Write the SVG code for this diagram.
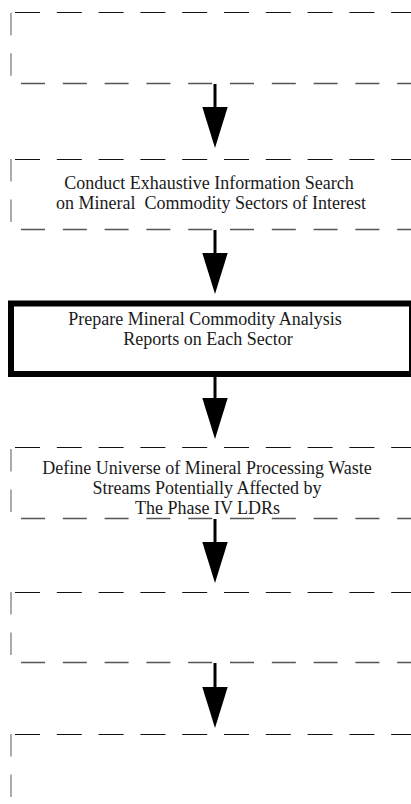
<svg xmlns="http://www.w3.org/2000/svg" width="411" height="804" viewBox="0 0 411 804">
  <style>
    .edge-top { fill: none; stroke: #111; stroke-width: 1.2; stroke-dasharray: 25 16.8; }
    .edge-bot { fill: none; stroke: #555; stroke-width: 1.4; stroke-dasharray: 24 17.8; }
    .edge-left { fill: none; stroke: #888; stroke-width: 1.4; stroke-dasharray: 22.5 18; }
    .solid-box { fill: #fff; stroke: #000; stroke-width: 6; }
    .label { font-family: "Liberation Serif", "Times New Roman", serif; font-size: 18px; fill: #1a1a1a; text-anchor: middle; }
    .conn { stroke: #000; stroke-width: 3; fill: none; }
  </style>
  <defs>
    <marker id="head" markerUnits="userSpaceOnUse" markerWidth="42" markerHeight="26" refX="0" refY="12.7" orient="auto">
      <path d="M0,0 L41,12.7 L0,25.4 Z" fill="#000"/>
    </marker>
  </defs>
  <rect width="411" height="804" fill="#fff"/>

  <g id="step-1">
    <path class="edge-top" d="M15,12.5 H420"/>
    <path class="edge-left" d="M11,12.7 V83"/>
    <path class="edge-bot" d="M21,83.5 H420"/>
  </g>

  <g id="step-2">
    <path class="edge-top" d="M15,159.5 H420"/>
    <path class="edge-left" d="M11,159 V229"/>
    <path class="edge-bot" d="M21,229.5 H420"/>
    <text class="label" x="209" y="189">Conduct Exhaustive Information Search</text>
    <text class="label" x="211" y="209" xml:space="preserve">on Mineral  Commodity Sectors of Interest</text>
  </g>

  <g id="step-3">
    <rect class="solid-box" x="11" y="303.5" width="401" height="70.5"/>
    <text class="label" x="205" y="325">Prepare Mineral Commodity Analysis</text>
    <text class="label" x="208" y="345">Reports on Each Sector</text>
  </g>

  <g id="step-4">
    <path class="edge-top" d="M15,447.5 H420"/>
    <path class="edge-left" d="M11,449 V518"/>
    <path class="edge-bot" d="M21,518.5 H420"/>
    <text class="label" x="207" y="474">Define Universe of Mineral Processing Waste</text>
    <text class="label" x="207" y="494">Streams Potentially Affected by</text>
    <text class="label" x="207.5" y="514">The Phase IV LDRs</text>
  </g>

  <g id="step-5">
    <path class="edge-top" d="M15,592.5 H420"/>
    <path class="edge-left" d="M11,592 V662"/>
    <path class="edge-bot" d="M21,662.5 H420"/>
  </g>

  <g id="step-6">
    <path class="edge-top" d="M15,734.5 H420"/>
    <path class="edge-left" d="M11,734 V804"/>
  </g>

  <g id="connectors">
    <line class="conn" x1="215" y1="84" x2="215" y2="107" marker-end="url(#head)"/>
    <line class="conn" x1="215" y1="230" x2="215" y2="253" marker-end="url(#head)"/>
    <line class="conn" x1="215" y1="377" x2="215" y2="398" marker-end="url(#head)"/>
    <line class="conn" x1="215" y1="519" x2="215" y2="542" marker-end="url(#head)"/>
    <line class="conn" x1="215" y1="663" x2="215" y2="687" marker-end="url(#head)"/>
  </g>
</svg>
